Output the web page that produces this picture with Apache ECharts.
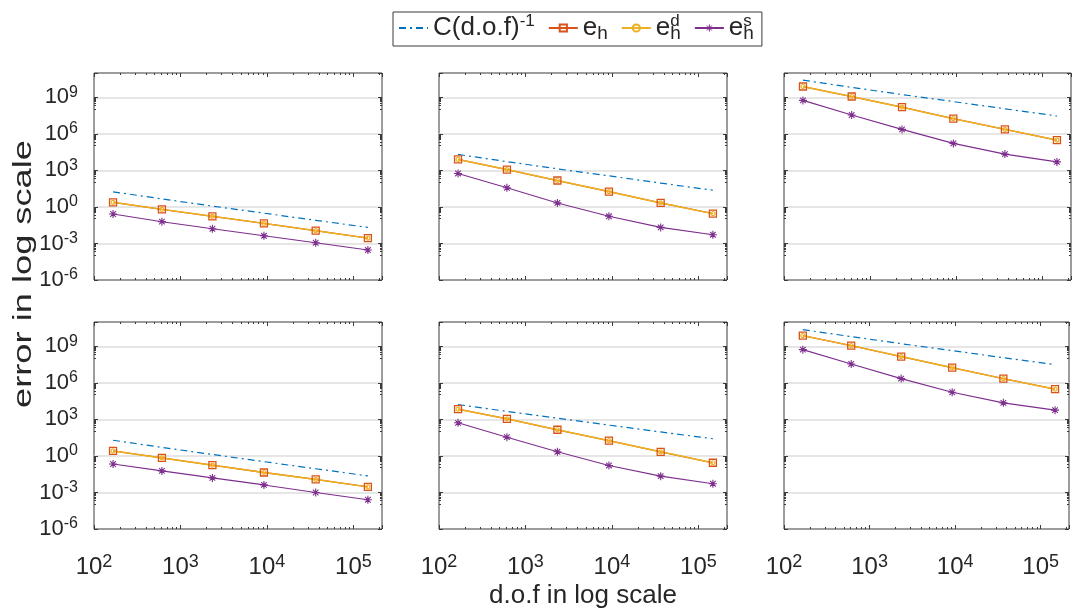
<!DOCTYPE html>
<html>
<head>
<meta charset="utf-8">
<script src="https://cdn.jsdelivr.net/npm/echarts@6/dist/echarts.min.js"></script>
<style>
  html, body { margin: 0; padding: 0; background: #ffffff; }
  #chart { width: 1072px; height: 612px; }
</style>
</head>
<body>
<div id="chart"></div>
<script>
// Degrees of freedom on the six refinement levels (shared by every panel)
const dof = [166, 610, 2340, 9230, 36600, 147000];

// Tick exponents shown on the axes
const xTickExps = [2, 3, 4, 5];
const yTickExps = [-6, -3, 0, 3, 6, 9];

// Row 1, column 1
const ref_r1c1 = [17.4, 4.57, 1.17, 3.09e-1, 7.94e-2, 2.09e-2];
const eh_r1c1  = [2.40, 6.31e-1, 1.70e-1, 4.47e-2, 1.12e-2, 2.75e-3];
const ehd_r1c1 = [2.40, 6.31e-1, 1.70e-1, 4.47e-2, 1.12e-2, 2.75e-3];
const ehs_r1c1 = [2.63e-1, 6.17e-2, 1.62e-2, 4.27e-3, 1.15e-3, 2.88e-4];

// Row 1, column 2
const ref_r1c2 = [2.04e4, 5.25e3, 1.35e3, 3.55e2, 9.12e1, 2.34e1];
const eh_r1c2  = [7.94e3, 1.17e3, 1.48e2, 1.82e1, 2.14, 2.82e-1];
const ehd_r1c2 = [7.94e3, 1.17e3, 1.48e2, 1.82e1, 2.14, 2.82e-1];
const ehs_r1c2 = [5.62e2, 3.72e1, 2.14, 1.70e-1, 2.09e-2, 5.25e-3];

// Row 1, column 3
const ref_r1c3 = [2.57e10, 6.61e9, 1.70e9, 4.47e8, 1.15e8, 2.95e7];
const eh_r1c3  = [7.76e9, 1.17e9, 1.55e8, 1.78e7, 2.34e6, 3.09e5];
const ehd_r1c3 = [7.76e9, 1.17e9, 1.55e8, 1.78e7, 2.34e6, 3.09e5];
const ehs_r1c3 = [5.62e8, 3.55e7, 2.34e6, 1.66e5, 2.19e4, 5.01e3];

// Row 2, column 1
const ref_r2c1 = [19.5, 5.01, 1.32, 3.39e-1, 8.91e-2, 2.29e-2];
const eh_r2c1  = [2.57, 6.92e-1, 1.74e-1, 4.37e-2, 1.17e-2, 2.88e-3];
const ehd_r2c1 = [2.57, 6.92e-1, 1.74e-1, 4.37e-2, 1.17e-2, 2.88e-3];
const ehs_r2c1 = [2.19e-1, 5.89e-2, 1.58e-2, 4.17e-3, 1.00e-3, 2.51e-4];

// Row 2, column 2
const ref_r2c2 = [1.66e4, 4.57e3, 1.26e3, 3.39e2, 9.33e1, 2.57e1];
const eh_r2c2  = [6.92e3, 1.12e3, 1.41e2, 1.78e1, 2.19, 2.75e-1];
const ehd_r2c2 = [6.92e3, 1.12e3, 1.41e2, 1.78e1, 2.19, 2.75e-1];
const ehs_r2c2 = [5.25e2, 3.47e1, 2.19, 1.66e-1, 2.19e-2, 5.25e-3];

// Row 2, column 3
const ref_r2c3 = [2.34e10, 6.31e9, 1.66e9, 4.47e8, 1.17e8, 3.16e7];
const eh_r2c3  = [7.59e9, 1.15e9, 1.45e8, 1.78e7, 2.24e6, 3.02e5];
const ehd_r2c3 = [7.59e9, 1.15e9, 1.45e8, 1.78e7, 2.24e6, 3.02e5];
const ehs_r2c3 = [5.37e8, 3.55e7, 2.24e6, 1.70e5, 2.29e4, 5.75e3];

const panels = [
  [ref_r1c1, eh_r1c1, ehd_r1c1, ehs_r1c1],
  [ref_r1c2, eh_r1c2, ehd_r1c2, ehs_r1c2],
  [ref_r1c3, eh_r1c3, ehd_r1c3, ehs_r1c3],
  [ref_r2c1, eh_r2c1, ehd_r2c1, ehs_r2c1],
  [ref_r2c2, eh_r2c2, ehd_r2c2, ehs_r2c2],
  [ref_r2c3, eh_r2c3, ehd_r2c3, ehs_r2c3]
];

const FONT = '"Liberation Sans", Arial, Helvetica, sans-serif';
const TEXT = '#262626';
const AXIS = '#3a3a3a';
const C_REF = '#0072BD', C_EH = '#D95319', C_EHD = '#EDB120', C_EHS = '#7E2F8E';

const NAME_REF = 'C(d.o.f)^-1', NAME_EH = 'e_h', NAME_EHD = 'e_h^d', NAME_EHS = 'e_h^s';
const legendRich = {
  [NAME_REF]: '{b|C(d.o.f)}{sp|-1}',
  [NAME_EH]: '{b|e}{sb|h}',
  [NAME_EHD]: '{b|e}{spw|d}{sb|h}',
  [NAME_EHS]: '{b|e}{spw|s}{sb|h}'
};

// Asterisk marker drawn as strokes
const ASTERISK = 'path://M5 0L5 10M0 5L10 5M1.5 1.5L8.5 8.5M1.5 8.5L8.5 1.5';

const colLeft = [94, 439, 784];
const rowTop = [73, 322];
const panelW = [288, 288, 287];
const panelH = 207;

function isPow(v, list) {
  const l = Math.log10(v);
  const e = Math.round(l);
  return Math.abs(l - e) < 1e-6 && list.indexOf(e) >= 0 ? e : null;
}

const xRich = {
  b: { fontFamily: FONT, fontSize: 24, lineHeight: 28, color: TEXT },
  s: { fontFamily: FONT, fontSize: 18, lineHeight: 20, verticalAlign: 'top', color: TEXT }
};
const yRich = {
  b: { fontFamily: FONT, fontSize: 22, lineHeight: 26, color: TEXT },
  s: { fontFamily: FONT, fontSize: 16, lineHeight: 18, verticalAlign: 'top', color: TEXT }
};

const grids = [], xAxes = [], yAxes = [], series = [];
const mirrorX = [], mirrorY = [];

panels.forEach(function (p, i) {
  const row = Math.floor(i / 3), col = i % 3;
  grids.push({
    left: colLeft[col], top: rowTop[row], width: panelW[col], height: panelH,
    show: true, borderColor: AXIS, borderWidth: 1, backgroundColor: 'transparent'
  });
  const xBase = {
    gridIndex: i, type: 'log', logBase: 10, min: 100, max: 214000,
    axisLine: { show: false },
    axisTick: { show: true, inside: true, length: 4, lineStyle: { color: AXIS, width: 1 } },
    minorTick: { show: true, splitNumber: 9, length: 2, lineStyle: { color: AXIS, width: 1 } },
    splitLine: { show: false },
    minorSplitLine: { show: false }
  };
  const yBase = {
    gridIndex: i, type: 'log', logBase: 1000, min: 1e-6, max: 1e11,
    axisLine: { show: false },
    axisTick: { show: true, inside: true, length: 4, lineStyle: { color: AXIS, width: 1 } },
    minorTick: { show: true, splitNumber: 9, length: 2, lineStyle: { color: AXIS, width: 1 } },
    minorSplitLine: { show: false }
  };
  const xMain = Object.assign({}, xBase, {
    position: 'bottom',
    axisLabel: {
      show: row === 1, margin: 24,
      formatter: function (v) {
        const e = isPow(v, xTickExps);
        return e === null ? '' : '{b|10}{s|' + e + '}';
      },
      rich: xRich
    }
  });
  if (row === 1 && col === 1) {
    Object.assign(xMain, {
      name: 'd.o.f in log scale', nameLocation: 'middle', nameGap: 54,
      nameTextStyle: { fontFamily: FONT, fontSize: 26, color: TEXT }
    });
  }
  xAxes.push(xMain);
  mirrorX.push(Object.assign({}, xBase, { position: 'top', axisLabel: { show: false } }));

  yAxes.push(Object.assign({}, yBase, {
    position: 'left',
    splitLine: { show: true, showMinLine: false, showMaxLine: false, lineStyle: { color: '#dedede', width: 1.5 } },
    axisLabel: {
      show: col === 0, margin: 16,
      formatter: function (v) {
        const e = isPow(v, yTickExps);
        return e === null ? '' : '{b|10}{s|' + e + '}';
      },
      rich: yRich
    }
  }));
  mirrorY.push(Object.assign({}, yBase, { position: 'right', splitLine: { show: false }, axisLabel: { show: false } }));

  const pts = function (arr) { return dof.map(function (d, k) { return [d, arr[k]]; }); };
  series.push({
    type: 'line', name: NAME_REF, xAxisIndex: i, yAxisIndex: i, data: pts(p[0]),
    showSymbol: false, symbol: 'none', color: C_REF,
    lineStyle: { color: C_REF, width: 1.2, type: [7, 4, 2, 4] }
  });
  series.push({
    type: 'line', name: NAME_EH, xAxisIndex: i, yAxisIndex: i, data: pts(p[1]),
    symbol: 'rect', symbolSize: 7, color: C_EH,
    itemStyle: { color: 'rgba(255,255,255,0)', borderColor: C_EH, borderWidth: 1.3 },
    lineStyle: { color: C_EH, width: 1.3 }
  });
  series.push({
    type: 'line', name: NAME_EHD, xAxisIndex: i, yAxisIndex: i, data: pts(p[2]),
    symbol: 'circle', symbolSize: 4, color: C_EHD,
    itemStyle: { color: 'rgba(255,255,255,0)', borderColor: C_EHD, borderWidth: 1.2 },
    lineStyle: { color: C_EHD, width: 1.5 }
  });
  series.push({
    type: 'line', name: NAME_EHS, xAxisIndex: i, yAxisIndex: i, data: pts(p[3]),
    symbol: ASTERISK, symbolSize: 8, color: C_EHS,
    itemStyle: { color: C_EHS, borderColor: C_EHS, borderWidth: 1.1 },
    lineStyle: { color: C_EHS, width: 1.1 }
  });
});

const option = {
  animation: false,
  backgroundColor: '#ffffff',
  textStyle: { fontFamily: FONT },
  legend: {
    data: [
      // the reference line carries no marker
      { name: NAME_REF, itemStyle: { color: 'rgba(0,0,0,0)', borderColor: 'rgba(0,0,0,0)', borderWidth: 0 } },
      { name: NAME_EH },
      { name: NAME_EHD },
      { name: NAME_EHS, itemStyle: { color: C_EHS, borderColor: C_EHS, borderWidth: 1 } }
    ],
    left: 393, top: 12, orient: 'horizontal',
    itemWidth: 29, itemHeight: 9, itemGap: 13,
    padding: [1, 8, 3, 5],
    borderColor: AXIS, borderWidth: 1, backgroundColor: '#ffffff',
    selectedMode: false,
    formatter: function (n) { return legendRich[n]; },
    textStyle: {
      color: TEXT, fontFamily: FONT, fontSize: 26,
      rich: {
        b: { fontFamily: FONT, fontSize: 26, lineHeight: 30, color: TEXT },
        sp: { fontFamily: FONT, fontSize: 17, lineHeight: 14, verticalAlign: 'top', color: TEXT },
        spw: { fontFamily: FONT, fontSize: 17, lineHeight: 14, verticalAlign: 'top', width: 0.01, color: TEXT },
        sb: { fontFamily: FONT, fontSize: 19, lineHeight: 14, verticalAlign: 'bottom', color: TEXT }
      }
    }
  },
  graphic: [{
    type: 'text', x: 24, y: 274, rotation: Math.PI / 2, scaleX: 1.45,
    style: { text: 'error in log scale', fontFamily: FONT, fontSize: 25, fill: TEXT, align: 'center', verticalAlign: 'middle' }
  }],
  grid: grids,
  xAxis: xAxes.concat(mirrorX),
  yAxis: yAxes.concat(mirrorY),
  series: series
};

const chart = echarts.init(document.getElementById('chart'), null, { renderer: 'canvas' });
chart.setOption(option);
</script>
</body>
</html>
